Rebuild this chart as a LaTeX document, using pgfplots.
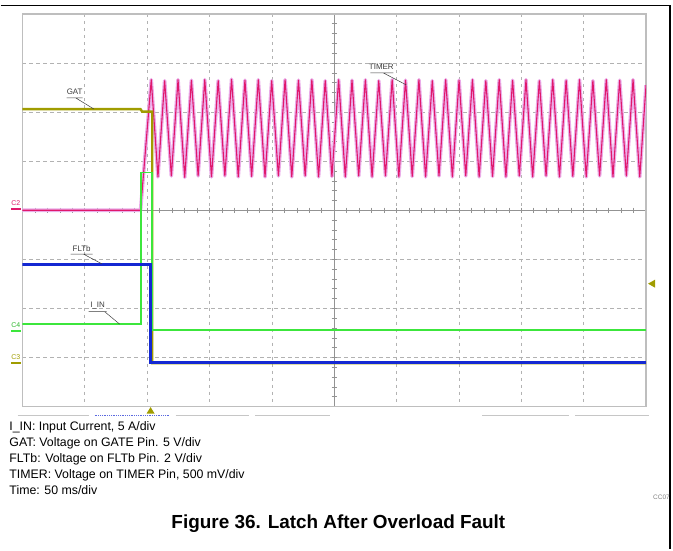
\documentclass[border=0pt]{standalone}
\usepackage{fontspec}
\setmainfont{Liberation Sans}
\usepackage{pgfplots}
\pgfplotsset{compat=1.18}
\definecolor{timerc}{RGB}{224,24,108}
\definecolor{timerl}{RGB}{234,172,232}
\definecolor{gatc}{RGB}{160,156,0}
\definecolor{fltc}{RGB}{20,40,210}
\definecolor{iinc}{RGB}{60,230,60}
\definecolor{gridc}{RGB}{178,178,178}
\definecolor{framec}{RGB}{190,190,190}
\definecolor{lblc}{RGB}{60,60,60}
\begin{document}
\begin{tikzpicture}
\begin{scope}[x=1bp,y=-1bp]
\path[use as bounding box] (0,0) rectangle (673,550);
\foreach \i in {1,2,3,4,6,7,8,9} {\draw[gridc, dash pattern=on 3bp off 4bp, line width=0.7bp] ({21.7+62.43*\i},14) -- ({21.7+62.43*\i},407);}
\foreach \j in {1,2,3,5,6,7} {\draw[gridc, dash pattern=on 4bp off 3bp, line width=0.7bp] (21.7,{14+49.125*\j}) -- (646,{14+49.125*\j});}
\draw[gray!85, line width=0.8bp] (333.85,14) -- (333.85,407);
\draw[gray!85, line width=0.8bp] (21.7,210.5) -- (646,210.5);
\foreach \k in {1,...,39} {\draw[gray!85, line width=0.6bp] (331.2,{14+9.825*\k}) -- (336.5,{14+9.825*\k});}
\foreach \k in {1,...,49} {\draw[gray!85, line width=0.6bp] ({21.7+12.486*\k},207.8) -- ({21.7+12.486*\k},213.2);}
\draw[framec, line width=1.3bp] (21.7,14) rectangle (646,407);
\end{scope}
\begin{axis}[at={(21.7bp,-407bp)}, anchor=south west, scale only axis,
  width=624.3bp, height=393bp, xmin=0, xmax=500, ymin=-4, ymax=4,
  axis lines=none, no markers]
% TIMER envelope and trace
\addplot[timerl, line width=3.6bp, line join=round] coordinates {(0,0)(94.7,0)(103.3,2.66)(108.67,0.68)(114.03,2.64)(119.4,0.70)(124.76,2.66)(130.13,0.67)(135.49,2.65)(140.86,0.70)(146.22,2.66)(151.59,0.68)(156.95,2.64)(162.32,0.70)(167.68,2.67)(173.05,0.68)(178.41,2.65)(183.78,0.69)(189.14,2.66)(194.51,0.68)(199.87,2.64)(205.24,0.70)(210.6,2.66)(215.97,0.68)(221.33,2.65)(226.7,0.70)(232.06,2.66)(237.43,0.68)(242.79,2.64)(248.16,0.69)(253.52,2.66)(258.89,0.68)(264.25,2.65)(269.62,0.70)(274.98,2.66)(280.35,0.68)(285.71,2.64)(291.08,0.70)(296.44,2.66)(301.81,0.68)(307.17,2.65)(312.54,0.69)(317.9,2.66)(323.27,0.68)(328.63,2.64)(334.0,0.70)(339.36,2.66)(344.73,0.68)(350.09,2.65)(355.46,0.70)(360.82,2.66)(366.19,0.68)(371.55,2.64)(376.92,0.69)(382.28,2.66)(387.65,0.68)(393.01,2.65)(398.38,0.70)(403.74,2.66)(409.11,0.68)(414.47,2.64)(419.84,0.70)(425.2,2.66)(430.57,0.68)(435.93,2.65)(441.3,0.69)(446.66,2.66)(452.03,0.68)(457.39,2.64)(462.76,0.70)(468.12,2.66)(473.49,0.68)(478.85,2.65)(484.22,0.70)(489.58,2.66)(494.95,0.68)(500,2.55)};
\addplot[timerc, line width=1.1bp, line join=round] coordinates {(0,0)(94.7,0)(103.3,2.66)(108.67,0.68)(114.03,2.64)(119.4,0.70)(124.76,2.66)(130.13,0.67)(135.49,2.65)(140.86,0.70)(146.22,2.66)(151.59,0.68)(156.95,2.64)(162.32,0.70)(167.68,2.67)(173.05,0.68)(178.41,2.65)(183.78,0.69)(189.14,2.66)(194.51,0.68)(199.87,2.64)(205.24,0.70)(210.6,2.66)(215.97,0.68)(221.33,2.65)(226.7,0.70)(232.06,2.66)(237.43,0.68)(242.79,2.64)(248.16,0.69)(253.52,2.66)(258.89,0.68)(264.25,2.65)(269.62,0.70)(274.98,2.66)(280.35,0.68)(285.71,2.64)(291.08,0.70)(296.44,2.66)(301.81,0.68)(307.17,2.65)(312.54,0.69)(317.9,2.66)(323.27,0.68)(328.63,2.64)(334.0,0.70)(339.36,2.66)(344.73,0.68)(350.09,2.65)(355.46,0.70)(360.82,2.66)(366.19,0.68)(371.55,2.64)(376.92,0.69)(382.28,2.66)(387.65,0.68)(393.01,2.65)(398.38,0.70)(403.74,2.66)(409.11,0.68)(414.47,2.64)(419.84,0.70)(425.2,2.66)(430.57,0.68)(435.93,2.65)(441.3,0.69)(446.66,2.66)(452.03,0.68)(457.39,2.64)(462.76,0.70)(468.12,2.66)(473.49,0.68)(478.85,2.65)(484.22,0.70)(489.58,2.66)(494.95,0.68)(500,2.55)};
% GAT
\addplot[gatc, line width=2.4bp] coordinates {(0,2.06)(94.7,2.06)(96,2.01)(104.1,2.01)(104.1,-3.115)(500,-3.115)};
% I_IN
\addplot[iinc, line width=1.8bp] coordinates {(0,-2.32)(95.3,-2.32)(95.3,0.77)(104.1,0.77)(104.1,-2.44)(500,-2.44)};
% FLTb
\addplot[fltc, line width=3.2bp] coordinates {(0,-1.10)(102.8,-1.10)(102.8,-3.11)(500,-3.11)};
\end{axis}
\begin{scope}[x=1bp,y=-1bp]
\draw[black, line width=1.5bp] (0,5.3) -- (670,5.3) -- (670,550);
% trace labels
\node[font=\fontsize{8}{9}\selectfont, text=lblc] at (74,92) {GAT};
\draw[lblc, line width=0.5bp] (66,98) -- (82,98) (75,98) -- (93,109);
\node[font=\fontsize{8}{9}\selectfont, text=lblc] at (381,67) {TIMER};
\draw[lblc, line width=0.5bp] (370,73) -- (393,73) (383,73) -- (406,85);
\node[font=\fontsize{8}{9}\selectfont, text=lblc] at (81,249) {FLTb};
\draw[lblc, line width=0.5bp] (70,254.5) -- (92,254.5) (83,254.5) -- (101,264);
\node[font=\fontsize{8}{9}\selectfont, text=lblc] at (97,306) {I\_IN};
\draw[lblc, line width=0.5bp] (88,312) -- (106,312) (104,312) -- (119,324.5);
% channel ground markers
\node[font=\fontsize{7}{7}\selectfont, text=timerc, inner sep=0pt] at (15,203) {C2};
\draw[timerc, line width=1.6bp] (10.5,209.5) -- (20,209.5);
\node[font=\fontsize{7}{7}\selectfont, text=iinc!80!black, inner sep=0pt] at (15,325) {C4};
\draw[iinc, line width=1.6bp] (10.5,331.5) -- (20,331.5);
\node[font=\fontsize{7}{7}\selectfont, text=gatc, inner sep=0pt] at (15,357.5) {C3};
\draw[gatc, line width=1.6bp] (10.5,363.5) -- (20,363.5);
% trigger markers
\fill[gatc] (146,414) -- (154,414) -- (150,407.5) -- cycle;
\fill[gatc] (648,284) -- (655,280) -- (655,288) -- cycle;
% bottom segments
\draw[gray!45, line width=0.9bp] (17,416) -- (88,416) (175,416) -- (249,416) (255,416) -- (330,416) (482,416) -- (569,416) (575,416) -- (649,416);
\draw[fltc!70, line width=0.9bp, dash pattern=on 1bp off 0.8bp] (94,416) -- (169,416);
% caption text
\begin{scope}[every node/.style={anchor=base west, font=\fontsize{12.4}{14}\selectfont, inner sep=0pt}]
\node at (8.5,431) {I\_IN: Input Current, 5 A/div};
\node at (8.5,447) {GAT: Voltage on GATE Pin. 5 V/div};
\node at (8.5,463) {FLTb: Voltage on FLTb Pin. 2 V/div};
\node at (8.5,479) {TIMER: Voltage on TIMER Pin, 500 mV/div};
\node at (8.5,495) {Time: 50 ms/div};
\end{scope}
\node[anchor=base west, font=\fontsize{6.5}{7}\selectfont, text=gray, inner sep=0pt] at (653,500) {CC07};
\node[anchor=base, font=\fontsize{19}{22}\selectfont\bfseries, inner sep=0pt] at (338,529) {Figure 36. Latch After Overload Fault};
\end{scope}
\end{tikzpicture}
\end{document}
